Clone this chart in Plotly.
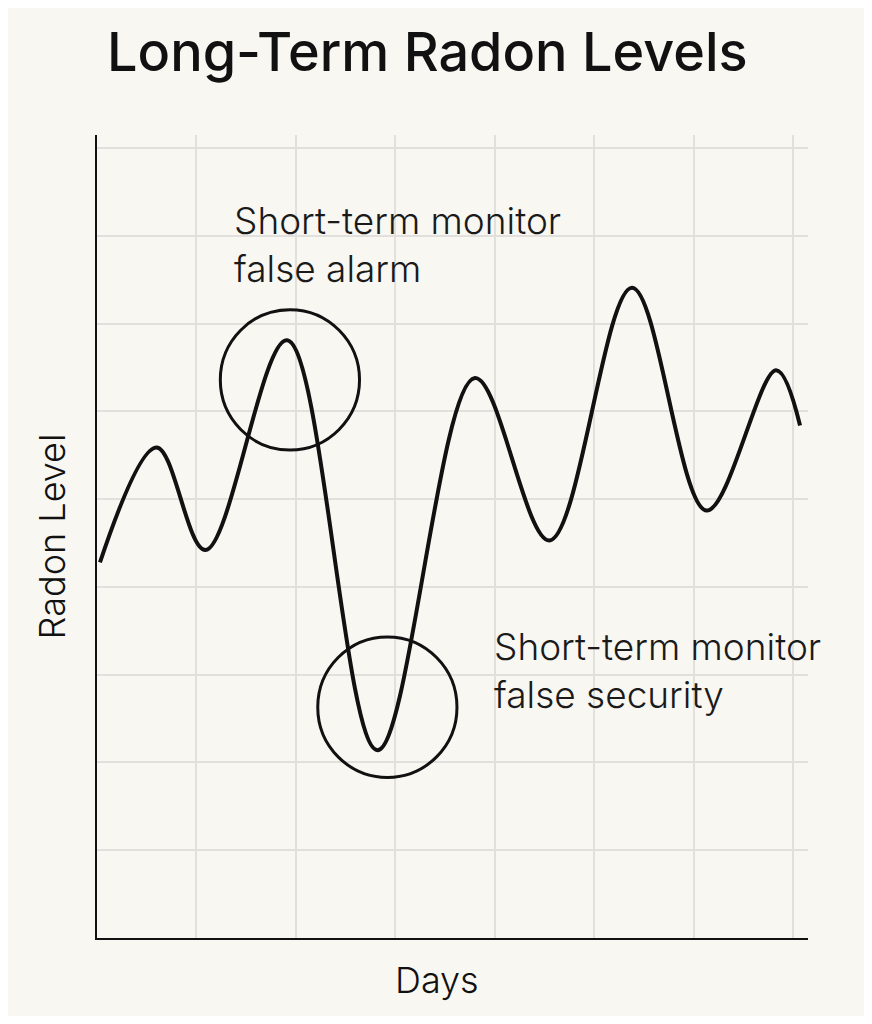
import plotly.graph_objects as go

days = [0.03, 0.6, 1.09, 1.91, 2.82, 3.8, 4.55, 5.38, 6.13, 6.83, 7.07]
radon = [4.28, 5.59, 4.42, 6.81, 2.14, 6.38, 4.53, 7.41, 4.87, 6.47, 5.84]
title = "Long-Term Radon Levels"
alarm_label = "Short-term monitor<br>false alarm"
security_label = "Short-term monitor<br>false security"

W, H = 856, 1008
fig = go.Figure()
fig.add_trace(go.Scatter(x=days, y=radon, mode="lines",
                         line=dict(color="#111", width=4, shape="spline", smoothing=1.0),
                         hoverinfo="skip"))
for cx, cy in [(1.94, 6.36), (2.92, 2.63)]:
    fig.add_shape(type="circle", xref="x", yref="y",
                  x0=cx - 0.70, x1=cx + 0.70, y0=cy - 0.80, y1=cy + 0.80,
                  line=dict(color="#111", width=3))
font = "Inter, Roboto, sans-serif"
fig.add_annotation(x=1.36, y=8.45, xref="x", yref="y", text=alarm_label, showarrow=False,
                   xanchor="left", yanchor="top", align="left",
                   font=dict(size=37, color="#1a1a1a", family=font, weight=300))
fig.add_annotation(x=3.97, y=3.6, xref="x", yref="y", text=security_label, showarrow=False,
                   xanchor="left", yanchor="top", align="left",
                   font=dict(size=37, color="#1a1a1a", family=font, weight=300))
fig.update_layout(
    width=W, height=H, showlegend=False,
    paper_bgcolor="#f9f7f2", plot_bgcolor="#f9f7f2",
    margin=dict(l=89, r=56, t=127, b=78),
    title=dict(text=title, x=99/W, xanchor="left", y=1 - 44/H, yanchor="middle",
               font=dict(size=54, color="#111", family=font, weight=500)),
    font=dict(family=font, color="#111"),
)
fig.update_xaxes(range=[0, 7.15], dtick=1, tick0=0, showticklabels=False, ticks="",
                 showgrid=True, gridcolor="#e2e0dc", gridwidth=2, zeroline=False,
                 showline=True, linecolor="#111", linewidth=2)
fig.update_yaxes(range=[0, 9.15], dtick=1, tick0=0, showticklabels=False, ticks="",
                 showgrid=True, gridcolor="#e2e0dc", gridwidth=2, zeroline=False,
                 showline=True, linecolor="#111", linewidth=2,
                 title=dict(text="Radon Level", font=dict(size=36, weight=300), standoff=18))
fig.add_annotation(x=3.42/7.15, y=-0.022, xref="paper", yref="paper", text="Days", showarrow=False,
                   yanchor="top", font=dict(size=36, color="#111", family=font, weight=300))
fig.write_html("out.html")
